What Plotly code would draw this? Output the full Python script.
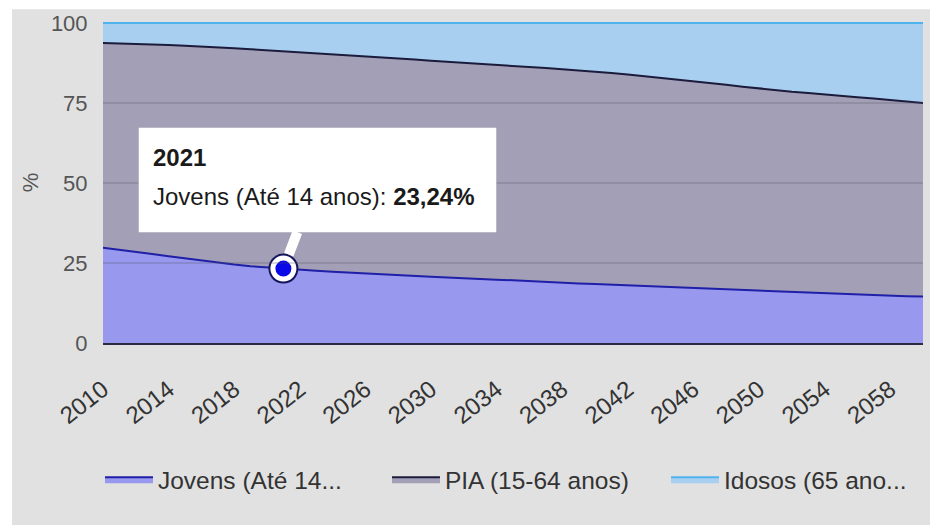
import plotly.graph_objects as go

years = list(range(2010, 2061))

jovens = [29.8, 29.2, 28.5, 27.8, 27.1, 26.4, 25.7, 25.1, 24.5, 24.0,
          23.6, 23.24, 22.9, 22.6, 22.3, 22.0, 21.7, 21.4, 21.2, 20.9,
          20.7, 20.5, 20.2, 20.0, 19.8, 19.6, 19.3, 19.1, 18.9, 18.6,
          18.4, 18.2, 17.9, 17.7, 17.5, 17.3, 17.0, 16.8, 16.6, 16.4,
          16.2, 16.0, 15.8, 15.6, 15.4, 15.2, 15.0, 14.9, 14.7, 14.6, 14.5]

pia = [63.9, 64.4, 64.9, 65.5, 66.0, 66.5, 67.0, 67.3, 67.6, 67.8,
       67.9, 67.96, 68.0, 68.0, 68.0, 68.0, 67.9, 67.9, 67.7, 67.7,
       67.5, 67.4, 67.4, 67.3, 67.1, 67.0, 66.9, 66.8, 66.6, 66.6,
       66.4, 66.2, 66.0, 65.7, 65.4, 65.1, 64.8, 64.4, 64.1, 63.7,
       63.3, 63.0, 62.7, 62.5, 62.2, 62.0, 61.8, 61.5, 61.3, 60.9, 60.5]

idosos = [6.3, 6.4, 6.6, 6.7, 6.9, 7.1, 7.3, 7.6, 7.9, 8.2,
          8.5, 8.8, 9.1, 9.4, 9.7, 10.0, 10.4, 10.7, 11.1, 11.4,
          11.8, 12.1, 12.4, 12.7, 13.1, 13.4, 13.8, 14.1, 14.5, 14.8,
          15.2, 15.6, 16.1, 16.6, 17.1, 17.6, 18.2, 18.8, 19.3, 19.9,
          20.5, 21.0, 21.5, 21.9, 22.4, 22.8, 23.2, 23.6, 24.0, 24.5, 25.0]

series_names = ["Jovens (Até 14...", "PIA (15-64 anos)", "Idosos (65 ano..."]
line_colors = ["#1f1fa8", "#1b1b3c", "#4fb4ee"]
fill_colors = ["#9898ee", "#a39fb6", "#a9cff0"]
legend_ids = ["legend", "legend2", "legend3"]
legend_x = [-0.0037, 0.3463, 0.6866]

x_ticks = list(range(2010, 2060, 4))
y_ticks = [0, 25, 50, 75, 100]

highlight_year = 2021
tooltip_title = "2021"
tooltip_label = "Jovens (Até 14 anos): "
tooltip_value = "23,24%"

FONT = "Liberation Sans, Arial, sans-serif"

fig = go.Figure()
for name, vals, lc, fc, lid in zip(series_names, [jovens, pia, idosos], line_colors, fill_colors, legend_ids):
    fig.add_trace(go.Scatter(
        x=years, y=vals, name=name, mode="lines", stackgroup="one", legend=lid,
        line=dict(color=lc, width=2), fillcolor=fc, hoverinfo="skip"))

hi_idx = years.index(highlight_year)
hx, hy = years[hi_idx], jovens[hi_idx]
fig.add_trace(go.Scatter(x=[hx], y=[hy], mode="markers", showlegend=False, hoverinfo="skip",
                         marker=dict(size=30, color="#15155e")))
fig.add_trace(go.Scatter(x=[hx], y=[hy], mode="markers", showlegend=False, hoverinfo="skip",
                         marker=dict(size=21, color="#0a0ae6", line=dict(color="white", width=5))))

shapes = [dict(type="rect", xref="paper", yref="paper", x0=-0.111, x1=1.02, y0=-0.6, y1=1.04,
               fillcolor="#e1e1e1", line=dict(width=0), layer="below")]
for v in y_ticks[1:-1]:
    shapes.append(dict(type="line", xref="paper", yref="y", x0=0, x1=1, y0=v, y1=v,
                       line=dict(color="rgba(80,80,100,0.22)", width=2), layer="above"))

annotations = [
    dict(x=hx, y=hy, xref="x", yref="y", text=" ", showarrow=True, arrowhead=0,
         arrowwidth=10, arrowcolor="white", ax=34, ay=-89, standoff=15,
         bgcolor="white", bordercolor="rgba(0,0,0,0.10)", borderwidth=1,
         width=343, height=90, borderpad=7),
    dict(x=hx, y=hy, xref="x", yref="y", text="<b>" + tooltip_title + "</b>", showarrow=False,
         xanchor="left", yanchor="middle", xshift=-132, yshift=111,
         font=dict(family=FONT, size=24, color="#1a1a1a")),
    dict(x=hx, y=hy, xref="x", yref="y", text=tooltip_label + "<b>" + tooltip_value + "</b>",
         showarrow=False, xanchor="left", yanchor="middle", xshift=-132, yshift=72,
         font=dict(family=FONT, size=24, color="#1a1a1a")),
]

legend_style = dict(orientation="h", xanchor="left", y=-0.425, yanchor="middle",
                    font=dict(family=FONT, size=24.5, color="#333333"),
                    itemwidth=48, bgcolor="rgba(0,0,0,0)")

fig.update_layout(
    width=930, height=525,
    margin=dict(l=103, r=7, t=22, b=182),
    paper_bgcolor="white", plot_bgcolor="#e1e1e1",
    font=dict(family=FONT, size=22, color="#555555"),
    shapes=shapes, annotations=annotations,
    showlegend=True,
    legend=dict(x=legend_x[0], **legend_style),
    legend2=dict(x=legend_x[1], **legend_style),
    legend3=dict(x=legend_x[2], **legend_style),
    xaxis=dict(range=[2010, 2060], tickvals=x_ticks, ticktext=[str(t) for t in x_ticks],
               tickangle=-38, ticks="outside", ticklen=21, tickcolor="rgba(0,0,0,0)",
               showgrid=False, zeroline=False, showline=True, linecolor="#2a2a40", linewidth=2,
               tickfont=dict(family=FONT, size=24, color="#333333")),
    yaxis=dict(range=[0, 100.3], tickvals=y_ticks, showgrid=False, zeroline=False,
               ticks="outside", ticklen=10, tickcolor="rgba(0,0,0,0)",
               title=dict(text="%", standoff=6, font=dict(family=FONT, size=22, color="#555555")),
               tickfont=dict(family=FONT, size=22, color="#555555")),
)

fig.write_html("out.html")
